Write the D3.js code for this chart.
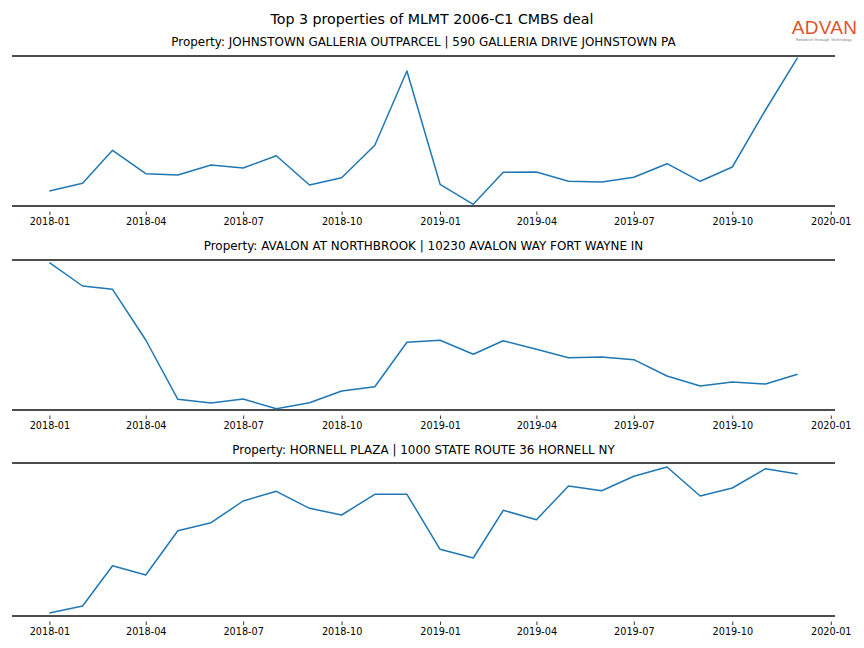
<!DOCTYPE html>
<html>
<head>
<meta charset="utf-8">
<script src="https://cdn.jsdelivr.net/npm/d3@7/dist/d3.min.js"></script>
<style>
  html, body { margin: 0; padding: 0; background: #fff; }
  svg { display: block; font-family: "DejaVu Sans", sans-serif; }
</style>
</head>
<body>
<svg id="chart" width="864" height="648"></svg>
<script>
const chartTitle = "Top 3 properties of MLMT 2006-C1 CMBS deal";
const months = ["2018-01","2018-02","2018-03","2018-04","2018-05","2018-06","2018-07","2018-08","2018-09","2018-10","2018-11","2018-12",
                "2019-01","2019-02","2019-03","2019-04","2019-05","2019-06","2019-07","2019-08","2019-09","2019-10","2019-11","2019-12"];
const tickLabels = ["2018-01","2018-04","2018-07","2018-10","2019-01","2019-04","2019-07","2019-10","2020-01"];
const propertyTitles = [
  "Property: JOHNSTOWN GALLERIA OUTPARCEL | 590 GALLERIA DRIVE JOHNSTOWN PA",
  "Property: AVALON AT NORTHBROOK | 10230 AVALON WAY FORT WAYNE IN",
  "Property: HORNELL PLAZA | 1000 STATE ROUTE 36 HORNELL NY"
];
// relative activity values (no y axis in the original)
const johnstownValues = [15, 22.7, 55.7, 32.3, 31, 41, 38, 50.3, 21, 28.3, 60.7, 135, 21.7, 1.7, 33.7, 34, 24.7, 24, 28.7, 42.3, 24.7, 39, 96, 148.3];
const avalonValues = [147.3, 124, 120.7, 70, 10.7, 7, 11, 1.3, 7.3, 19, 23.3, 67.7, 69.7, 55.7, 69.3, 60.7, 52.3, 53, 50.3, 34, 24, 28, 26, 35.7];
const hornellValues = [3, 10, 50.3, 41, 85.3, 93.3, 115, 124.7, 107.7, 101, 121.7, 121.7, 66.7, 58, 105.7, 96.3, 130, 125.3, 139.7, 149, 120, 128, 147.3, 142];
const yDomains = [[0, 150], [0, 150], [0, 153]];

const seriesList = [johnstownValues, avalonValues, hornellValues];
const panels = [
  { top: 56, bottom: 206, titleY: 46 },
  { top: 260, bottom: 410, titleY: 250 },
  { top: 463, bottom: 616, titleY: 454 }
];

const svg = d3.select("#chart");
const parse = d3.timeParse("%Y-%m");
const dates = months.map(parse);
const tickDates = tickLabels.map(parse);

const left = 12, right = 835;
// matplotlib-like 5% margins on the time extent
const ext = d3.extent(dates);
const span = ext[1] - ext[0];
const x = d3.scaleTime()
  .domain([new Date(+ext[0] - span * 0.05), new Date(+ext[1] + span * 0.05)])
  .range([left, right]);

svg.append("text")
  .attr("x", 432).attr("y", 24)
  .attr("text-anchor", "middle")
  .attr("font-size", 14.2)
  .attr("fill", "#000")
  .text(chartTitle);

// logo
const logo = svg.append("g");
logo.append("text")
  .attr("x", 824.5).attr("y", 34)
  .attr("text-anchor", "middle")
  .attr("font-size", 19)
  .attr("font-weight", 500)
  .attr("font-family", "Liberation Sans, Arial, sans-serif")
  .attr("fill", "#e0542a")
  .attr("letter-spacing", 0.3)
  .text("ADVAN");
logo.append("text")
  .attr("x", 824).attr("y", 40.5)
  .attr("text-anchor", "middle")
  .attr("font-size", 3.8)
  .attr("fill", "#777")
  .text("Research through Technology");

panels.forEach((p, i) => {
  const values = seriesList[i];
  const y = d3.scaleLinear().domain(yDomains[i]).range([p.bottom, p.top]);
  const g = svg.append("g");

  g.append("text")
    .attr("x", 423.5).attr("y", p.titleY)
    .attr("text-anchor", "middle")
    .attr("font-size", 11.95)
    .attr("fill", "#000")
    .text(propertyTitles[i]);

  // top & bottom spines
  [p.top, p.bottom].forEach(yy => {
    g.append("line")
      .attr("x1", left).attr("x2", right)
      .attr("y1", yy).attr("y2", yy)
      .attr("stroke", "#4d4d4d").attr("stroke-width", 2);
  });

  // x axis
  const axis = d3.axisBottom(x)
    .tickValues(tickDates)
    .tickFormat(d3.timeFormat("%Y-%m"))
    .tickSize(3.5)
    .tickPadding(3);
  const ag = g.append("g")
    .attr("transform", `translate(0,${p.bottom + 5.5})`)
    .call(axis);
  ag.select(".domain").remove();
  ag.selectAll(".tick line").attr("stroke", "#000").attr("stroke-width", 0.8);
  ag.selectAll(".tick text")
    .attr("font-size", 9.7)
    .attr("font-family", "DejaVu Sans, sans-serif")
    .attr("fill", "#000");

  const line = d3.line()
    .x((d, j) => x(dates[j]))
    .y(d => y(d));
  g.append("path")
    .datum(values)
    .attr("fill", "none")
    .attr("stroke", "#1f77b4")
    .attr("stroke-width", 1.5)
    .attr("stroke-linejoin", "round")
    .attr("d", line);
});
</script>
</body>
</html>
